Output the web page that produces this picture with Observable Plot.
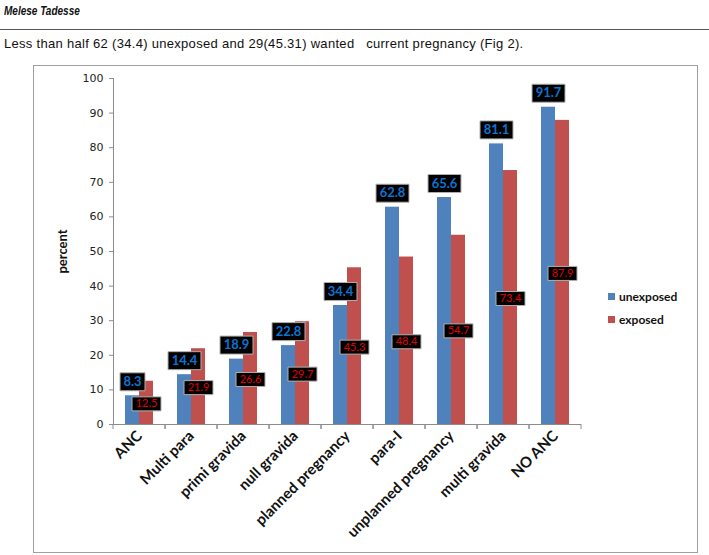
<!DOCTYPE html>
<html>
<head>
<meta charset="utf-8">
<script src="https://cdn.jsdelivr.net/npm/d3@7"></script>
<script src="https://cdn.jsdelivr.net/npm/@observablehq/plot@0.6"></script>
<style>
  body { margin: 0; background: #fff; width: 709px; height: 555px; position: relative; overflow: hidden; }
  #hdr { position: absolute; left: 4px; top: 4px; font: italic bold 12.5px "Liberation Sans", Arial, sans-serif; color: #111; transform: scaleX(0.8); transform-origin: left top; }
  #rule { position: absolute; left: 0; top: 29px; width: 709px; height: 1px; background: #555; }
  #intro { position: absolute; left: 4px; top: 36px; font: 13px "Liberation Sans", Arial, sans-serif; letter-spacing: 0.3px; color: #111; white-space: pre; }
  #box { position: absolute; left: 33px; top: 65px; width: 663px; height: 486px; border: 1px solid #a0a0a0; }
  #box svg { position: absolute; left: 0; top: 0; }
  .leg { position: absolute; display: flex; align-items: center; font: bold 12px Lato, sans-serif; color: #111; }
  .leg span.sw { display: inline-block; width: 7px; height: 7px; margin-right: 4px; }
</style>
</head>
<body>
<div id="hdr">Melese Tadesse</div>
<div id="rule"></div>
<div id="intro">Less than half 62 (34.4) unexposed and 29(45.31) wanted   current pregnancy (Fig 2).</div>
<div id="box"></div>
<script>
const categories = ["ANC", "Multi para", "primi gravida", "null gravida", "planned pregnancy", "para-I", "unplanned pregnancy", "multi gravida", "NO ANC"];
const seriesNames = ["unexposed", "exposed"];
const unexposed = [8.3, 14.4, 18.9, 22.8, 34.4, 62.8, 65.6, 81.1, 91.7];
const exposed = [12.5, 21.9, 26.6, 29.7, 45.3, 48.4, 54.7, 73.4, 87.9];
const yTicks = [0, 10, 20, 30, 40, 50, 60, 70, 80, 90, 100];
const seriesColors = ["#4F81BD", "#C0504D"];

const data = categories.flatMap((c, i) => [
  {category: c, series: seriesNames[0], value: unexposed[i]},
  {category: c, series: seriesNames[1], value: exposed[i]}
]);
const blueData = data.filter(d => d.series === seriesNames[0]);
const redData = data.filter(d => d.series === seriesNames[1]);
const fmt = d => d.value.toFixed(1);

function boxSymbol(w, h) {
  return {draw(context) { context.rect(-w / 2, -h / 2, w, h); }};
}

// small ticks at the category boundaries (drawn in every facet)
function edgeTicks(index, scales) {
  const [x0, x1] = scales.x.range();
  const y0 = scales.y(0);
  const g = d3.create("svg:g").attr("stroke", "#8c8c8c");
  for (const xx of [x0, x1]) {
    g.append("line").attr("x1", xx).attr("x2", xx).attr("y1", y0).attr("y2", y0 + 5);
  }
  return g.node();
}

const chart = Plot.plot({
  width: 663,
  height: 486,
  marginLeft: 75,
  marginRight: 112,
  marginTop: 12,
  marginBottom: 128,
  style: {background: "transparent", overflow: "visible"},
  fx: {domain: categories, padding: 0, label: null},
  x: {domain: seriesNames, paddingInner: 0, paddingOuter: 0.83, axis: null},
  y: {domain: [0, 100], label: null},
  color: {domain: seriesNames, range: seriesColors},
  marks: [
    Plot.barY(data, {fx: "category", x: "series", y: "value", fill: "series"}),
    Plot.ruleY([0], {stroke: "#8c8c8c"}),
    edgeTicks,
    Plot.frame({anchor: "left", fx: () => categories[0], stroke: "#8c8c8c"}),
    Plot.axisY({ticks: yTicks, tickSize: 4, tickPadding: 6, label: null, fontSize: 11, fontFamily: "DejaVu Sans", color: "#222", stroke: "#8c8c8c"}),
    Plot.axisY({ticks: [], tickSize: 0, label: "percent", labelAnchor: "center", labelArrow: "none", labelOffset: 56, fontSize: 13, fontWeight: "bold", fontFamily: "Lato", color: "#111"}),
    Plot.axisFx({anchor: "bottom", tickRotate: -45, tickSize: 0, tickPadding: 9, label: null, fontSize: 15, fontWeight: "bold", fontFamily: "Lato", color: "#111"}),
    // unexposed value labels: outside end
    Plot.dot(blueData.filter(d => fmt(d).length === 3), {fx: "category", x: "series", y: "value", dy: -14, symbol: boxSymbol(25, 18), fill: "black", stroke: "#b0b0b0", strokeWidth: 1}),
    Plot.dot(blueData.filter(d => fmt(d).length > 3), {fx: "category", x: "series", y: "value", dy: -14, symbol: boxSymbol(33, 18), fill: "black", stroke: "#b0b0b0", strokeWidth: 1}),
    Plot.text(blueData, {fx: "category", x: "series", y: "value", dy: -14, text: fmt, fill: "#0b74d1", fontSize: 13, fontWeight: "bold", fontFamily: "Lato"}),
    // exposed value labels: centered in bar
    Plot.dot(redData, {fx: "category", x: "series", y: d => d.value / 2, dy: 1, symbol: boxSymbol(29, 14), fill: "black", stroke: "#b0b0b0", strokeWidth: 1}),
    Plot.text(redData, {fx: "category", x: "series", y: d => d.value / 2, dy: 1, text: fmt, fill: "#e00000", fontSize: 11, fontFamily: "Lato"})
  ]
});
const box = document.getElementById("box");
box.appendChild(chart);

// legend
seriesNames.forEach((s, i) => {
  const el = document.createElement("div");
  el.className = "leg";
  el.style.left = "574px";
  el.style.top = (222 + i * 23) + "px";
  el.style.height = "16px";
  const sw = document.createElement("span");
  sw.className = "sw";
  sw.style.background = seriesColors[i];
  el.appendChild(sw);
  el.appendChild(document.createTextNode(s));
  box.appendChild(el);
});
</script>
</body>
</html>
